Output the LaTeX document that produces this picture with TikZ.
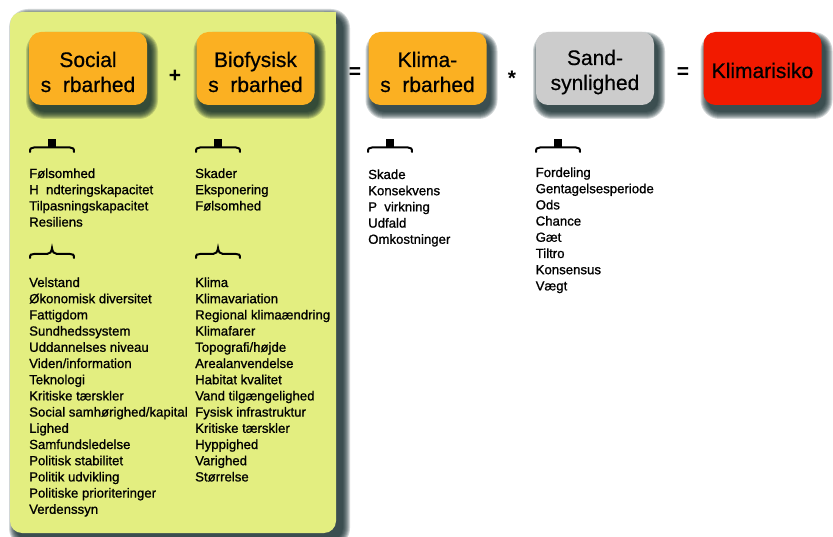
\documentclass[tikz,border=0pt]{standalone}
\usepackage{fontspec}
\setmainfont{Liberation Sans}
\newfontfamily\heavysans{Liberation Sans}[FakeBold=0.5]
\newfontfamily\listsans{Liberation Sans}[FakeBold=1.0]

\definecolor{panelgreen}{HTML}{E3EE80}
\definecolor{boxorange}{HTML}{FBB022}
\definecolor{boxgrey}{HTML}{CCCCCC}
\definecolor{boxred}{HTML}{F21A00}
\definecolor{shadowteal}{HTML}{0B2427}

% soft drop shadow: stacked translucent rounded rectangles
% #1,#2 = top-left corner, #3,#4 = bottom-right corner, #5 = corner radius, #6 = spread
\newcommand\softshadow[6]{%
  \foreach \k in {0,...,7}{%
    \pgfmathsetmacro\spread{(7-\k)*#6/7}%
    \pgfmathsetmacro\radius{#5+\spread}%
    \fill[shadowteal, fill opacity=0.18, rounded corners=\radius pt]
      (#1-\spread,#2-\spread) rectangle (#3+\spread,#4+\spread);
  }%
}

\tikzset{
  factor/.style={fill=#1, rounded corners=12pt, minimum width=118pt, minimum height=73pt, inner sep=0pt},
  factortext/.style={anchor=base, inner sep=0pt, align=center, font=\heavysans\fontsize{21}{25}\selectfont},
  operator/.style={inner sep=0pt, font=\bfseries\fontsize{21}{25}\selectfont},
  % anchor "base" of a multi-line node is the baseline of its last line
  itemlist/.style={anchor=base west, inner sep=0pt, align=left, font=\listsans\fontsize{13.2}{16.2}\selectfont},
  bracestroke/.style={line width=2pt, line cap=round},
  notchbrace/.pic={
    \draw[bracestroke] (1,13) .. controls (1,9.5) and (2,8.5) .. (5,8.5) -- (41,8.5)
      .. controls (44,8.5) and (45,9.5) .. (45,13);
    \fill (18.7,0) rectangle (27,9.5);
  },
  curlybrace/.pic={
    \draw[bracestroke] (1,11) .. controls (1,7.5) and (2,7) .. (5,7) -- (18,7)
      .. controls (21,7) and (22.5,5) .. (23,1) .. controls (23.5,5) and (25,7) .. (28,7)
      -- (41,7) .. controls (44,7) and (45,7.5) .. (45,11);
  }
}

\begin{document}
\begin{tikzpicture}[x=1pt,y=-1pt]
\useasboundingbox (0,0) rectangle (833,537);
\fill[white] (0,0) rectangle (833,537);

% green panel holding the two vulnerability columns
\softshadow{16}{16}{343}{540}{12}{7}
\fill[panelgreen, rounded corners=12pt] (10,12) rectangle (336,533);
\fill[panelgreen] (300,12) rectangle (336,40);

% shadows of the factor boxes
\foreach \cx in {88,255.5,427.5,595,762.5}{
  \softshadow{\cx-59+4}{32+7}{\cx+59+4}{105+7}{12}{7}
}

% factor boxes
\node[factor=boxorange] (social) at (88,68.5) {};
\node[factor=boxorange] (bio) at (255.5,68.5) {};
\node[factor=boxorange] (klima) at (427.5,68.5) {};
\node[factor=boxgrey] (sand) at (595,68.5) {};
\node[factor=boxred] (risk) at (762.5,68.5) {};

\node[factortext] (socialtext) at (social.center |- 0,92) {Social\\s\hspace{0.556em}rbarhed};
\node[factortext] (biotext) at (bio.center |- 0,92) {Biofysisk\\s\hspace{0.556em}rbarhed};
\node[factortext] (klimatext) at (klima.center |- 0,92) {Klima-\\s\hspace{0.556em}rbarhed};
\node[factortext] (sandtext) at (sand.center |- 0,90) {Sand-\\synlighed};
\node[factortext] (risktext) at (risk.center |- 0,78) {Klimarisiko};

% operators between the boxes
\node[operator] (plus) at (175,76) {+};
\node[operator] (eq1) at (355,73) {=};
\node[operator] (times) at (512,78) {*};
\node[operator] (eq2) at (683,73) {=};

% braces
\pic at (29,139) {notchbrace};
\pic at (195,139) {notchbrace};
\pic at (367,139) {notchbrace};
\pic at (535,139) {notchbrace};
\pic at (29,247) {curlybrace};
\pic at (195,247) {curlybrace};

% lists (positioned by the baseline of their last line)
\node[itemlist] (sociala) at (29,226.6) {Følsomhed\\H\hspace{0.556em}ndteringskapacitet\\Tilpasningskapacitet\\Resiliens};
\node[itemlist] (socialb) at (29,513.8) {Velstand\\Økonomisk diversitet\\Fattigdom\\Sundhedssystem\\Uddannelses niveau\\Viden/information\\Teknologi\\Kritiske tærskler\\Social samhørighed/kapital\\Lighed\\Samfundsledelse\\Politisk stabilitet\\Politik udvikling\\Politiske prioriteringer\\Verdenssyn};
\node[itemlist] (bioa) at (195,210.4) {Skader\\Eksponering\\Følsomhed};
\node[itemlist] (biob) at (195,481.4) {Klima\\Klimavariation\\Regional klimaændring\\Klimafarer\\Topografi/højde\\Arealanvendelse\\Habitat kvalitet\\Vand tilgængelighed\\Fysisk infrastruktur\\Kritiske tærskler\\Hyppighed\\Varighed\\Størrelse};
\node[itemlist] (klimalist) at (368,243.8) {Skade\\Konsekvens\\P\hspace{0.556em}virkning\\Udfald\\Omkostninger};
\node[itemlist] (sandlist) at (535.5,290.4) {Fordeling\\Gentagelsesperiode\\Ods\\Chance\\Gæt\\Tiltro\\Konsensus\\Vægt};
\end{tikzpicture}
\end{document}
